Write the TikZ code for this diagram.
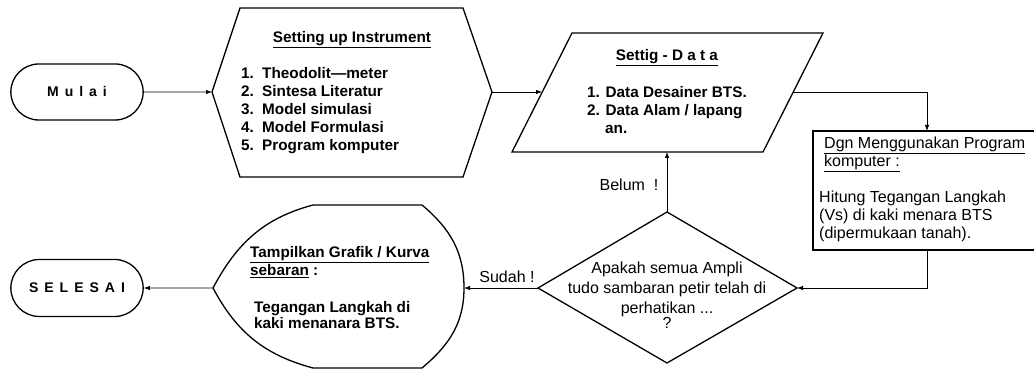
\documentclass[tikz,border=0pt]{standalone}
\usepackage{fontspec}
\setmainfont{Liberation Sans}
\usetikzlibrary{shapes.misc}
\usetikzlibrary{arrows.meta}
\newcommand{\lsp}{\hspace{6pt}}

\begin{document}
\begin{tikzpicture}[x=1pt,y=1pt,
  txt/.style={font=\fontsize{16}{18}\selectfont,inner sep=0pt},
  btxt/.style={font=\fontsize{15.3}{18}\selectfont\bfseries,inner sep=0pt},
  endtxt/.style={font=\fontsize{14}{16}\selectfont\bfseries},
  shp/.style={draw=black,line width=1.3pt},
  flow/.style={draw=black,line width=0.8pt,-{Latex[length=6pt,width=4.5pt]}}]
\useasboundingbox (0,0) rectangle (1034,371);

% start and end
\node[shp,rounded rectangle,minimum width=139pt,minimum height=56pt,endtxt] (mulai) at (77,279) {M\lsp u\lsp l\lsp a\lsp i};
\node[shp,rounded rectangle,minimum width=139pt,minimum height=57pt,endtxt] (selesai) at (77,83) {S\lsp E\lsp L\lsp E\lsp S\lsp A\lsp I};

% preparation (hexagon)
\draw[shp] (212,279) coordinate (hexW) -- (240,363) -- (463,363) -- (492,279) coordinate (hexE) -- (463,194) -- (240,194) -- cycle;
\node[btxt,anchor=base] (instr) at (352,328.5) {\underline{Setting up Instrument}};
\node[btxt,anchor=base west] (n1) at (241,292.5) {1.};
\node[btxt,anchor=base west] (i1) at (262,292.5) {Theodolit—meter};
\node[btxt,anchor=base west] (n2) at (241,274.5) {2.};
\node[btxt,anchor=base west] (i2) at (262,274.5) {Sintesa Literatur};
\node[btxt,anchor=base west] (n3) at (241,256.5) {3.};
\node[btxt,anchor=base west] (i3) at (262,256.5) {Model simulasi};
\node[btxt,anchor=base west] (n4) at (241,238.5) {4.};
\node[btxt,anchor=base west] (i4) at (262,238.5) {Model Formulasi};
\node[btxt,anchor=base west] (n5) at (241,220.5) {5.};
\node[btxt,anchor=base west] (i5) at (262,220.5) {Program komputer};

% data (parallelogram)
\draw[shp] (512,219) -- (572,338) -- (823,338) -- (763,219) -- cycle;
\coordinate (parW) at (542,279);
\coordinate (parE) at (793,279);
\coordinate (parS) at (667,219);
\node[btxt,anchor=base] (data) at (667,310.5) {\underline{Settig - D a t a}};
\node[btxt,anchor=base west] (d1) at (587,273.5) {1. Data Desainer BTS.};
\node[btxt,anchor=base west] (d2) at (587,255.5) {2. Data Alam / lapang};
\node[btxt,anchor=base west] (d3) at (605,237.5) {an.};

% process (rectangle)
\draw[shp] (813,240) rectangle (1040,121);
\coordinate (boxN) at (927,240);
\coordinate (boxS) at (927,121);
\node[txt,anchor=base west] (p1) at (824,222.5) {\underline{Dgn Menggunakan Program}};
\node[txt,anchor=base west] (p2) at (824,204.5) {\underline{komputer :}};
\node[txt,anchor=base west] (p3) at (819,168.5) {Hitung Tegangan Langkah};
\node[txt,anchor=base west] (p4) at (819,150.5) {(Vs) di kaki menara BTS};
\node[txt,anchor=base west] (p5) at (819,132.5) {(dipermukaan tanah).};

% decision (diamond)
\draw[shp] (538,83) coordinate (decW) -- (667,159) coordinate (decN) -- (797,83) coordinate (decE) -- (667,8) -- cycle;
\node[txt,anchor=base] (q1) at (667,97.5) {Apakah semua Ampli};
\node[txt,anchor=base] (q2) at (667,77.5) {tudo sambaran petir telah di};
\node[txt,anchor=base] (q3) at (667,57.5) {perhatikan ...};
\node[txt,anchor=base] (q4) at (667,42.5) {?};

% display
\draw[shp] (213,83) coordinate (dispW) to[out=62,in=195] (313,166) -- (422,166)
  to[out=-40,in=90] (464,83) coordinate (dispE) to[out=-90,in=40] (422,3) -- (313,3)
  to[out=165,in=-62] cycle;
\node[btxt,anchor=base west] (g1) at (250,113.5) {\underline{Tampilkan Grafik / Kurva}};
\node[btxt,anchor=base west] (g2) at (250,95.5) {\underline{sebaran} :};
\node[btxt,anchor=base west] (g3) at (254,58.5) {Tegangan Langkah di};
\node[btxt,anchor=base west] (g4) at (254,42.5) {kaki menanara BTS.};

% connectors
\draw[flow] (mulai) -- (hexW);
\draw[flow] (hexE) -- (parW);
\draw[flow] (parE) -| (boxN);
\draw[flow] (boxS) |- (decE);
\draw[flow] (decN) -- (parS);
\draw[flow] (decW) -- (dispE);
\draw[flow] (dispW) -- (selesai);
\node[txt,anchor=base] (belum) at (629,180.5) {Belum\ \ !};
\node[txt,anchor=base] (sudah) at (507,88.5) {Sudah !};

\end{tikzpicture}
\end{document}
